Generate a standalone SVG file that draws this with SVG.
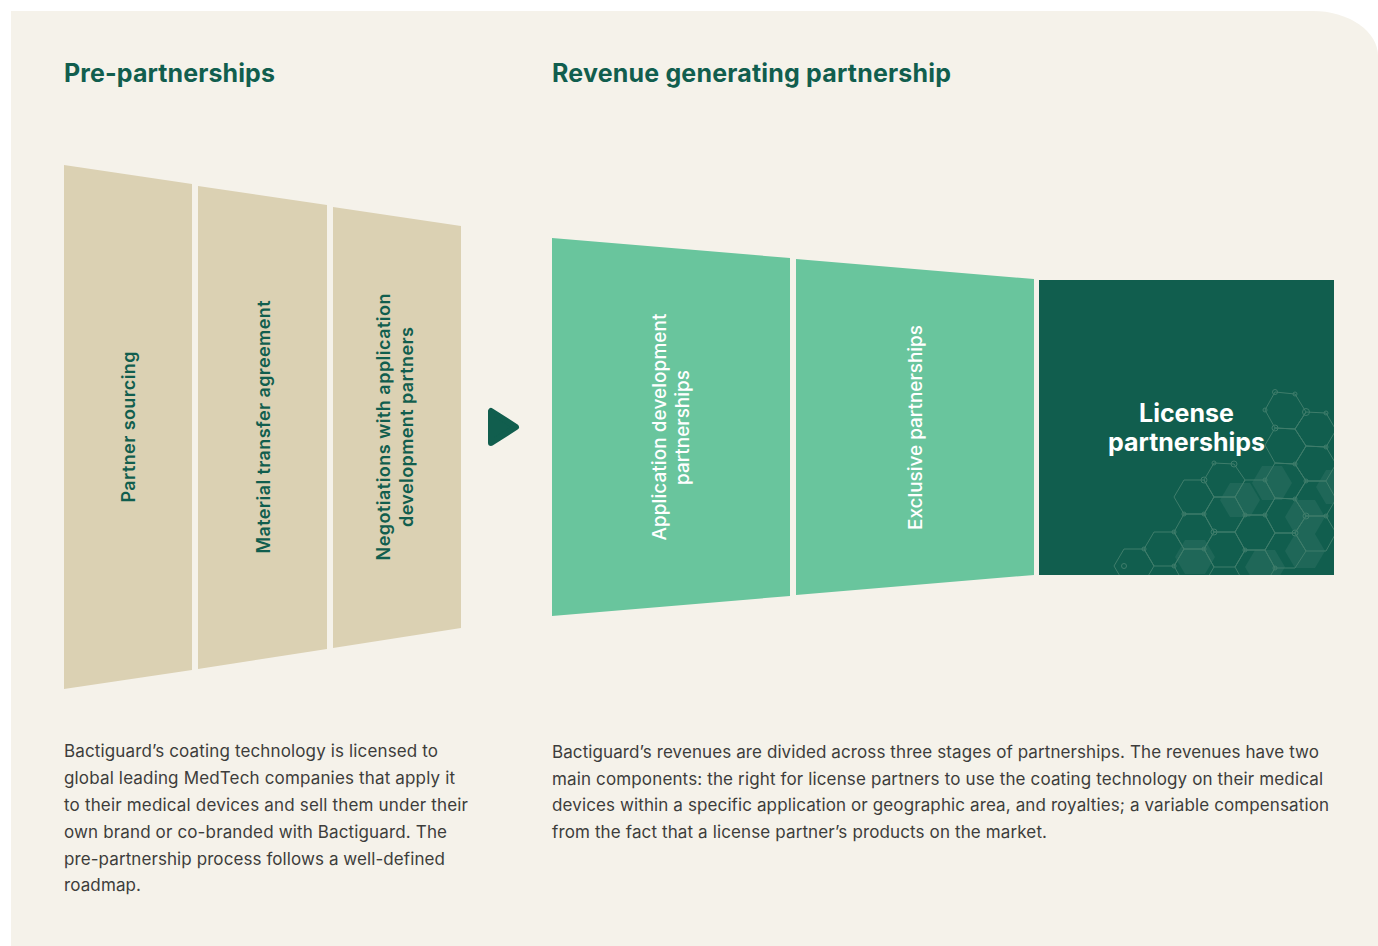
<svg xmlns="http://www.w3.org/2000/svg" width="1378" height="946" viewBox="0 0 1378 946">
<style>
.title{font-family:Inter,"Liberation Sans",sans-serif;font-weight:700;font-size:25px;fill:#115E4E}
.body{font-family:Inter,"Liberation Sans",sans-serif;font-weight:400;font-size:17px;fill:#3d3d3b}
.vb{font-family:Inter,"Liberation Sans",sans-serif;font-weight:600;font-size:18px;fill:#115E4E;text-anchor:middle}
.vg{font-family:Inter,"Liberation Sans",sans-serif;font-weight:500;font-size:19px;fill:#ffffff;text-anchor:middle}
.lic{font-family:Inter,"Liberation Sans",sans-serif;font-weight:700;font-size:25px;fill:#ffffff;text-anchor:middle}
.beige{fill:#DBD1B3}
.green{fill:#69C59D}
.hex{fill:none;stroke:#3f7d6b;stroke-width:1}
.dot{fill:none;stroke:#3f7d6b;stroke-width:1}
.hfill{fill:#ffffff;fill-opacity:0.06}
</style>
<defs>
<clipPath id="boxclip"><rect x="1039" y="280" width="295" height="295"/></clipPath>
</defs>
<path d="M11,11 H1313 A65,45 0 0 1 1378,56 V946 H11 Z" fill="#F5F2EA"/>

<text class="title" x="64" y="82" textLength="211">Pre-partnerships</text>
<text class="title" x="552" y="82" textLength="399">Revenue generating partnership</text>

<g id="partner-sourcing">
<polygon class="beige" points="64,165 192,184 192,670 64,689"/>
<text class="vb" transform="translate(135,427) rotate(-90)" x="0" y="0" textLength="151">Partner sourcing</text>
</g>
<g id="material-transfer">
<polygon class="beige" points="198,186 327,205 327,649 198,669"/>
<text class="vb" transform="translate(269.5,427) rotate(-90)" x="0" y="0" textLength="253">Material transfer agreement</text>
</g>
<g id="negotiations">
<polygon class="beige" points="333,207 461,226 461,628 333,648"/>
<text class="vb" transform="translate(390,427) rotate(-90)" x="0" y="0" textLength="267">Negotiations with application</text>
<text class="vb" transform="translate(413,427) rotate(-90)" x="0" y="0" textLength="200">development partners</text>
</g>

<g id="connectors">
<polygon points="491,411 491,443 516,427" fill="#115E4E" stroke="#115E4E" stroke-width="6" stroke-linejoin="round"/>
</g>

<g id="application-development">
<polygon class="green" points="552,238 790,258 790,596 552,616"/>
<text class="vg" transform="translate(665.5,427) rotate(-90)" x="0" y="0" textLength="227">Application development</text>
<text class="vg" transform="translate(688.5,427.5) rotate(-90)" x="0" y="0" textLength="115">partnerships</text>
</g>
<g id="exclusive">
<polygon class="green" points="796,259 1034,279 1034,575 796,595"/>
<text class="vg" transform="translate(922,427.5) rotate(-90)" x="0" y="0" textLength="205">Exclusive partnerships</text>
</g>
<g id="license">
<rect x="1039" y="280" width="295" height="295" fill="#115E4E"/>
<g clip-path="url(#boxclip)">
<g class="hfill">
<polygon points="1230,483 1250,483 1260,500 1250,517 1230,517 1220,500"/>
<polygon points="1262,466 1282,466 1292,483 1282,500 1262,500 1252,483"/>
<polygon points="1295,500 1315,500 1325,517 1315,534 1295,534 1285,517"/>
<polygon points="1295,534 1315,534 1325,551 1315,568 1295,568 1285,551"/>
<polygon points="1185,540 1205,540 1215,557 1205,574 1185,574 1175,557"/>
<polygon points="1255,550 1275,550 1285,567 1275,584 1255,584 1245,567"/>
<polygon points="1326,470 1346,470 1356,487 1346,504 1326,504 1316,487"/>
</g>
<path class="hex" d="
M1275,392 L1295,394 L1306,412 L1295,429 L1275,428 L1265,410 Z
M1306,412 L1326,413 L1336,430 L1326,447 L1306,446 L1295,429 Z
M1295,429 L1306,446 L1295,464 L1275,463 L1265,445 L1275,428 Z
M1306,446 L1326,447 L1336,464 L1326,481 L1306,481 L1295,464 Z
M1275,463 L1295,464 L1306,481 L1295,499 L1275,498 L1265,480 Z
M1306,481 L1326,481 L1336,499 L1326,516 L1306,516 L1295,499 Z
M1245,480 L1265,480 L1275,498 L1265,515 L1245,515 L1235,497 Z
M1265,515 L1275,498 L1295,499 L1306,516 L1295,533 L1275,533 Z
M1306,516 L1326,516 L1336,533 L1326,551 L1306,551 L1295,533 Z
M1214,463 L1234,464 L1245,480 L1235,497 L1214,497 L1204,480 Z
M1235,497 L1245,515 L1235,532 L1214,532 L1204,514 L1214,497 Z
M1265,515 L1275,533 L1265,550 L1245,550 L1235,532 L1245,515 Z
M1275,533 L1295,533 L1306,551 L1295,568 L1275,568 L1265,550 Z
M1184,480 L1204,480 L1214,497 L1204,514 L1184,514 L1174,497 Z
M1204,514 L1214,532 L1204,549 L1184,549 L1174,532 L1184,514 Z
M1235,532 L1245,550 L1235,567 L1214,567 L1204,549 L1214,532 Z
M1265,550 L1275,568 L1265,585 L1245,585 L1235,567 L1245,550 Z
M1174,532 L1184,549 L1174,566 L1154,566 L1144,549 L1154,532 Z
M1204,549 L1214,567 L1204,584 L1184,584 L1174,566 L1184,549 Z
M1144,549 L1154,566 L1144,583 L1124,583 L1114,566 L1124,549 Z
M1336,499 L1346,481 L1356,499 Z
"/>
<g class="dot">
<circle cx="1275" cy="392" r="2.5"/>
<circle cx="1295" cy="394" r="2"/>
<circle cx="1306" cy="412" r="3.5"/>
<circle cx="1265" cy="410" r="2"/>
<circle cx="1275" cy="428" r="3"/>
<circle cx="1326" cy="413" r="2"/>
<circle cx="1295" cy="464" r="2"/>
<circle cx="1306" cy="481" r="2"/>
<circle cx="1265" cy="480" r="2"/>
<circle cx="1214" cy="463" r="2"/>
<circle cx="1234" cy="464" r="3"/>
<circle cx="1204" cy="480" r="3"/>
<circle cx="1245" cy="515" r="2"/>
<circle cx="1265" cy="515" r="2"/>
<circle cx="1295" cy="499" r="2"/>
<circle cx="1326" cy="516" r="2"/>
<circle cx="1306" cy="516" r="3"/>
<circle cx="1245" cy="550" r="2"/>
<circle cx="1204" cy="514" r="2"/>
<circle cx="1214" cy="532" r="3"/>
<circle cx="1184" cy="514" r="2"/>
<circle cx="1174" cy="532" r="2"/>
<circle cx="1204" cy="549" r="2"/>
<circle cx="1144" cy="549" r="2"/>
<circle cx="1124" cy="566" r="2.5"/>
<circle cx="1174" cy="566" r="2"/>
<circle cx="1275" cy="568" r="2"/>
<circle cx="1326" cy="447" r="2"/>
<circle cx="1295" cy="533" r="3"/>
</g>
</g>
<text class="lic" x="1186.5" y="421.5">License</text>
<text class="lic" x="1186.5" y="450.5">partnerships</text>
</g>

<g id="left-text">
<text class="body" x="64" y="757" textLength="374">Bactiguard’s coating technology is licensed to</text>
<text class="body" x="64" y="784" textLength="391">global leading MedTech companies that apply it</text>
<text class="body" x="64" y="811" textLength="404">to their medical devices and sell them under their</text>
<text class="body" x="64" y="838" textLength="383">own brand or co-branded with Bactiguard. The</text>
<text class="body" x="64" y="864.5" textLength="381">pre-partnership process follows a well-defined</text>
<text class="body" x="64" y="891" textLength="77">roadmap.</text>
</g>
<g id="right-text">
<text class="body" x="552" y="758" textLength="767">Bactiguard’s revenues are divided across three stages of partnerships. The revenues have two</text>
<text class="body" x="552" y="784.5" textLength="771">main components: the right for license partners to use the coating technology on their medical</text>
<text class="body" x="552" y="811" textLength="777">devices within a specific application or geographic area, and royalties; a variable compensation</text>
<text class="body" x="552" y="837.5" textLength="495">from the fact that a license partner’s products on the market.</text>
</g>
</svg>
